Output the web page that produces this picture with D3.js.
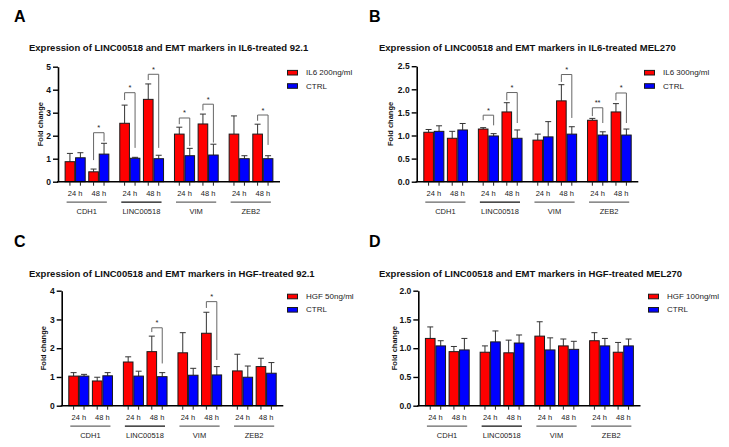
<!DOCTYPE html>
<html>
<head>
<meta charset="utf-8">
<script src="https://cdn.jsdelivr.net/npm/d3@7"></script>
<style>
  html, body { margin: 0; padding: 0; background: #fff; }
  svg { display: block; font-family: "Liberation Sans", Arial, sans-serif; }
</style>
</head>
<body>
<svg id="chart" width="729" height="447"></svg>
<script>
// ---------------- DATA ----------------
const genes = ["CDH1", "LINC00518", "VIM", "ZEB2"];
const times = ["24 h", "48 h"];
// value order: CDH1 24h, CDH1 48h, LINC 24h, LINC 48h, VIM 24h, VIM 48h, ZEB2 24h, ZEB2 48h

// Panel A: IL6-treated 92.1
const aTitle = "Expression of LINC00518 and EMT markers in IL6-treated 92.1";
const aSeries = ["IL6 200ng/ml", "CTRL"];
const aTreated   = [0.87, 0.43, 2.54, 3.58, 2.07, 2.51, 2.07, 2.07];
const aTreatedSD = [0.36, 0.12, 0.79, 0.67, 0.30, 0.43, 0.79, 0.43];
const aCtrl      = [1.04, 1.20, 1.02, 1.00, 1.13, 1.16, 1.00, 1.00];
const aCtrlSD    = [0.22, 0.47, 0.04, 0.15, 0.32, 0.47, 0.13, 0.13];
const aTicks = [0, 1, 2, 3, 4, 5];
// [gene, time, label, top, left leg end, right leg end]
const aSig = [
  [0, 1, "*", 2.13, 0.94, 1.75],
  [1, 0, "*", 3.87, 3.55, 1.47],
  [1, 1, "*", 4.67, 4.42, 1.47],
  [2, 0, "*", 2.77, 2.50, 1.55],
  [2, 1, "*", 3.37, 3.10, 1.70],
  [3, 1, "*", 2.90, 2.65, 1.60]
];

// Panel B: IL6-treated MEL270
const bTitle = "Expression of LINC00518 and EMT markers in IL6-treated MEL270";
const bSeries = ["IL6 300ng/ml", "CTRL"];
const bTreated   = [1.07, 0.94, 1.14, 1.51, 0.90, 1.75, 1.33, 1.51];
const bTreatedSD = [0.06, 0.15, 0.03, 0.20, 0.13, 0.35, 0.04, 0.18];
const bCtrl      = [1.09, 1.12, 0.99, 0.94, 0.97, 1.03, 1.01, 1.01];
const bCtrlSD    = [0.12, 0.14, 0.05, 0.18, 0.33, 0.16, 0.07, 0.13];
const bTicks = [0, 0.5, 1.0, 1.5, 2.0, 2.5];
const bSig = [
  [1, 0, "*", 1.44, 1.33, 1.22],
  [1, 1, "*", 1.93, 1.76, 1.27],
  [2, 1, "*", 2.32, 2.16, 1.38],
  [3, 0, "**", 1.60, 1.42, 1.27],
  [3, 1, "*", 1.92, 1.76, 1.27]
];

// Panel C: HGF-treated 92.1
const cTitle = "Expression of LINC00518 and EMT markers in HGF-treated 92.1";
const cSeries = ["HGF 50ng/ml", "CTRL"];
const cTreated   = [1.03, 0.86, 1.52, 1.88, 1.84, 2.52, 1.21, 1.36];
const cTreatedSD = [0.12, 0.13, 0.18, 0.54, 0.70, 0.73, 0.58, 0.29];
const cCtrl      = [1.03, 1.04, 1.03, 1.01, 1.06, 1.07, 0.99, 1.13];
const cCtrlSD    = [0.06, 0.11, 0.17, 0.14, 0.24, 0.29, 0.39, 0.37];
const cTicks = [0, 1, 2, 3, 4];
const cSig = [
  [1, 1, "*", 2.71, 2.56, 1.47],
  [2, 1, "*", 3.62, 3.40, 1.59]
];

// Panel D: HGF-treated MEL270
const dTitle = "Expression of LINC00518 and EMT markers in HGF-treated MEL270";
const dSeries = ["HGF 100ng/ml", "CTRL"];
const dTreated   = [1.17, 0.94, 0.93, 0.92, 1.21, 1.04, 1.13, 0.93];
const dTreatedSD = [0.20, 0.09, 0.11, 0.22, 0.25, 0.12, 0.14, 0.17];
const dCtrl      = [1.04, 0.97, 1.11, 1.09, 0.97, 0.98, 1.04, 1.04];
const dCtrlSD    = [0.09, 0.20, 0.19, 0.14, 0.21, 0.14, 0.13, 0.12];
const dTicks = [0, 0.5, 1.0, 1.5, 2.0];
const dSig = [];

const colors = ["#ff0000", "#0000ff"];

// ---------------- LAYOUT ----------------
const panels = [
  { letter: "A", title: aTitle, series: aSeries, vals: [aTreated, aCtrl], sds: [aTreatedSD, aCtrlSD],
    ticks: aTicks, fmt: d3.format("d"), sig: aSig,
    x0: 58, x1: 280, y0: 181.7, y1: 66.7, letterX: 14, letterY: 22, titleX: 29, titleY: 50.5,
    ylabX: 40, legX: 287.5, legY: 72.7 },
  { letter: "B", title: bTitle, series: bSeries, vals: [bTreated, bCtrl], sds: [bTreatedSD, bCtrlSD],
    ticks: bTicks, fmt: d3.format(".1f"), sig: bSig,
    x0: 416.7, x1: 638.3, y0: 181.7, y1: 66.2, letterX: 369, letterY: 22, titleX: 379, titleY: 50.5,
    ylabX: 390, legX: 644.5, legY: 72.7 },
  { letter: "C", title: cTitle, series: cSeries, vals: [cTreated, cCtrl], sds: [cTreatedSD, cCtrlSD],
    ticks: cTicks, fmt: d3.format("d"), sig: cSig,
    x0: 61.7, x1: 283.3, y0: 405.7, y1: 290.7, letterX: 14, letterY: 247, titleX: 29, titleY: 276.5,
    ylabX: 43, legX: 287.5, legY: 296.5 },
  { letter: "D", title: dTitle, series: dSeries, vals: [dTreated, dCtrl], sds: [dTreatedSD, dCtrlSD],
    ticks: dTicks, fmt: d3.format(".1f"), sig: dSig,
    x0: 418.3, x1: 640.5, y0: 405.7, y1: 290.7, letterX: 369, letterY: 247, titleX: 379, titleY: 276.5,
    ylabX: 394, legX: 648.5, legY: 296.5 }
];

const svg = d3.select("#chart");

panels.forEach(p => {
  const g = svg.append("g");

  const y = d3.scaleLinear().domain([0, d3.max(p.ticks)]).range([p.y0, p.y1]);
  const xGene = d3.scaleBand().domain(genes).range([p.x0, p.x1]).paddingInner(0.2).paddingOuter(0.13);
  const xTime = d3.scaleBand().domain(times).range([0, xGene.bandwidth()]).paddingInner(0.15).paddingOuter(0);
  const xSer = d3.scaleBand().domain([0, 1]).range([0, xTime.bandwidth()]).paddingInner(0.08).paddingOuter(0);

  const barX = (gi, ti, si) => xGene(genes[gi]) + xTime(times[ti]) + xSer(si);
  const barC = (gi, ti, si) => barX(gi, ti, si) + xSer.bandwidth() / 2;

  // letter & title
  g.append("text").attr("x", p.letterX).attr("y", p.letterY)
    .attr("font-size", 16).attr("font-weight", "bold").attr("fill", "#000").text(p.letter);
  g.append("text").attr("x", p.titleX).attr("y", p.titleY)
    .attr("font-size", 9.5).attr("font-weight", "bold").attr("fill", "#111").text(p.title);

  // y label
  g.append("text")
    .attr("transform", `translate(${p.ylabX},${(p.y0 + p.y1) / 2}) rotate(-90)`)
    .attr("text-anchor", "middle").attr("dominant-baseline", "central")
    .attr("font-size", 7.5).attr("font-weight", "bold").attr("fill", "#111").text("Fold change");

  // bars data
  const bars = [];
  for (let gi = 0; gi < genes.length; gi++)
    for (let ti = 0; ti < times.length; ti++)
      for (let si = 0; si < 2; si++) {
        const idx = gi * 2 + ti;
        bars.push({ gi, ti, si, v: p.vals[si][idx], sd: p.sds[si][idx] });
      }

  // error bars (upper only)
  const eb = g.append("g").attr("stroke", "#333").attr("stroke-width", 1);
  bars.forEach(b => {
    const cx = barC(b.gi, b.ti, b.si);
    eb.append("line").attr("x1", cx).attr("x2", cx).attr("y1", y(b.v)).attr("y2", y(b.v + b.sd));
    eb.append("line").attr("x1", cx - 3).attr("x2", cx + 3).attr("y1", y(b.v + b.sd)).attr("y2", y(b.v + b.sd));
  });

  // bars
  g.append("g").selectAll("rect").data(bars).join("rect")
    .attr("x", d => barX(d.gi, d.ti, d.si))
    .attr("y", d => y(d.v))
    .attr("width", xSer.bandwidth())
    .attr("height", d => y(0) - y(d.v))
    .attr("fill", d => colors[d.si])
    .attr("stroke", "#1a1a1a").attr("stroke-width", 1);

  // y axis
  const ya = g.append("g").attr("transform", `translate(${p.x0},0)`)
    .call(d3.axisLeft(y).tickValues(p.ticks).tickFormat(p.fmt).tickSize(5).tickSizeOuter(0).tickPadding(2));
  ya.select(".domain").attr("stroke", "#000").attr("stroke-width", 1.6);
  ya.selectAll(".tick line").attr("stroke", "#000").attr("stroke-width", 1.4);
  ya.selectAll(".tick text").attr("font-size", 8.5).attr("font-weight", "bold").attr("fill", "#111")
    .attr("font-family", "Liberation Sans, Arial, sans-serif");

  // x axis baseline and bar ticks
  g.append("line").attr("x1", p.x0 - 1).attr("x2", p.x1).attr("y1", y(0)).attr("y2", y(0))
    .attr("stroke", "#000").attr("stroke-width", 1.6);
  g.append("g").selectAll("line").data(bars).join("line")
    .attr("x1", d => barC(d.gi, d.ti, d.si)).attr("x2", d => barC(d.gi, d.ti, d.si))
    .attr("y1", y(0)).attr("y2", y(0) + 4)
    .attr("stroke", "#222").attr("stroke-width", 1);

  // time labels
  genes.forEach((gn, gi) => {
    times.forEach((t, ti) => {
      g.append("text")
        .attr("x", xGene(gn) + xTime(t) + xTime.bandwidth() / 2)
        .attr("y", y(0) + 11.5)
        .attr("text-anchor", "middle").attr("dominant-baseline", "central")
        .attr("font-size", 7.5).attr("fill", "#222").text(t);
    });
    const gx0 = xGene(gn) + 1.5, gx1 = xGene(gn) + xGene.bandwidth() - 2;
    g.append("line").attr("x1", gx0).attr("x2", gx1).attr("y1", y(0) + 20.5).attr("y2", y(0) + 20.5)
      .attr("stroke", gn === "LINC00518" ? "#111" : "#666").attr("stroke-width", 1.2);
    g.append("text")
      .attr("x", (gx0 + gx1) / 2).attr("y", y(0) + 29.8)
      .attr("text-anchor", "middle").attr("dominant-baseline", "central")
      .attr("font-size", 7.5).attr("fill", "#222").text(gn);
  });

  // significance brackets
  const sg = g.append("g");
  p.sig.forEach(s => {
    const [gi, ti, lab, top, lEnd, rEnd] = s;
    const xl = barC(gi, ti, 0), xr = barC(gi, ti, 1);
    sg.append("path")
      .attr("d", `M${xl},${y(lEnd)}V${y(top)}H${xr}V${y(rEnd)}`)
      .attr("fill", "none").attr("stroke", "#666").attr("stroke-width", 1);
    sg.append("text").attr("x", (xl + xr) / 2).attr("y", y(top) - 2.5)
      .attr("text-anchor", "middle").attr("font-size", 7.5).attr("fill", "#222").text(lab);
  });

  // legend
  const lg = g.append("g");
  p.series.forEach((s, si) => {
    const ly = p.legY + si * 13.3;
    lg.append("rect").attr("x", p.legX).attr("y", ly - 2.3).attr("width", 10).attr("height", 4.6)
      .attr("fill", colors[si]).attr("stroke", "#1a1a1a").attr("stroke-width", 1);
    lg.append("text").attr("x", p.legX + 18.5).attr("y", ly)
      .attr("dominant-baseline", "central").attr("font-size", 8).attr("fill", "#222").text(s);
  });
});
</script>
</body>
</html>
